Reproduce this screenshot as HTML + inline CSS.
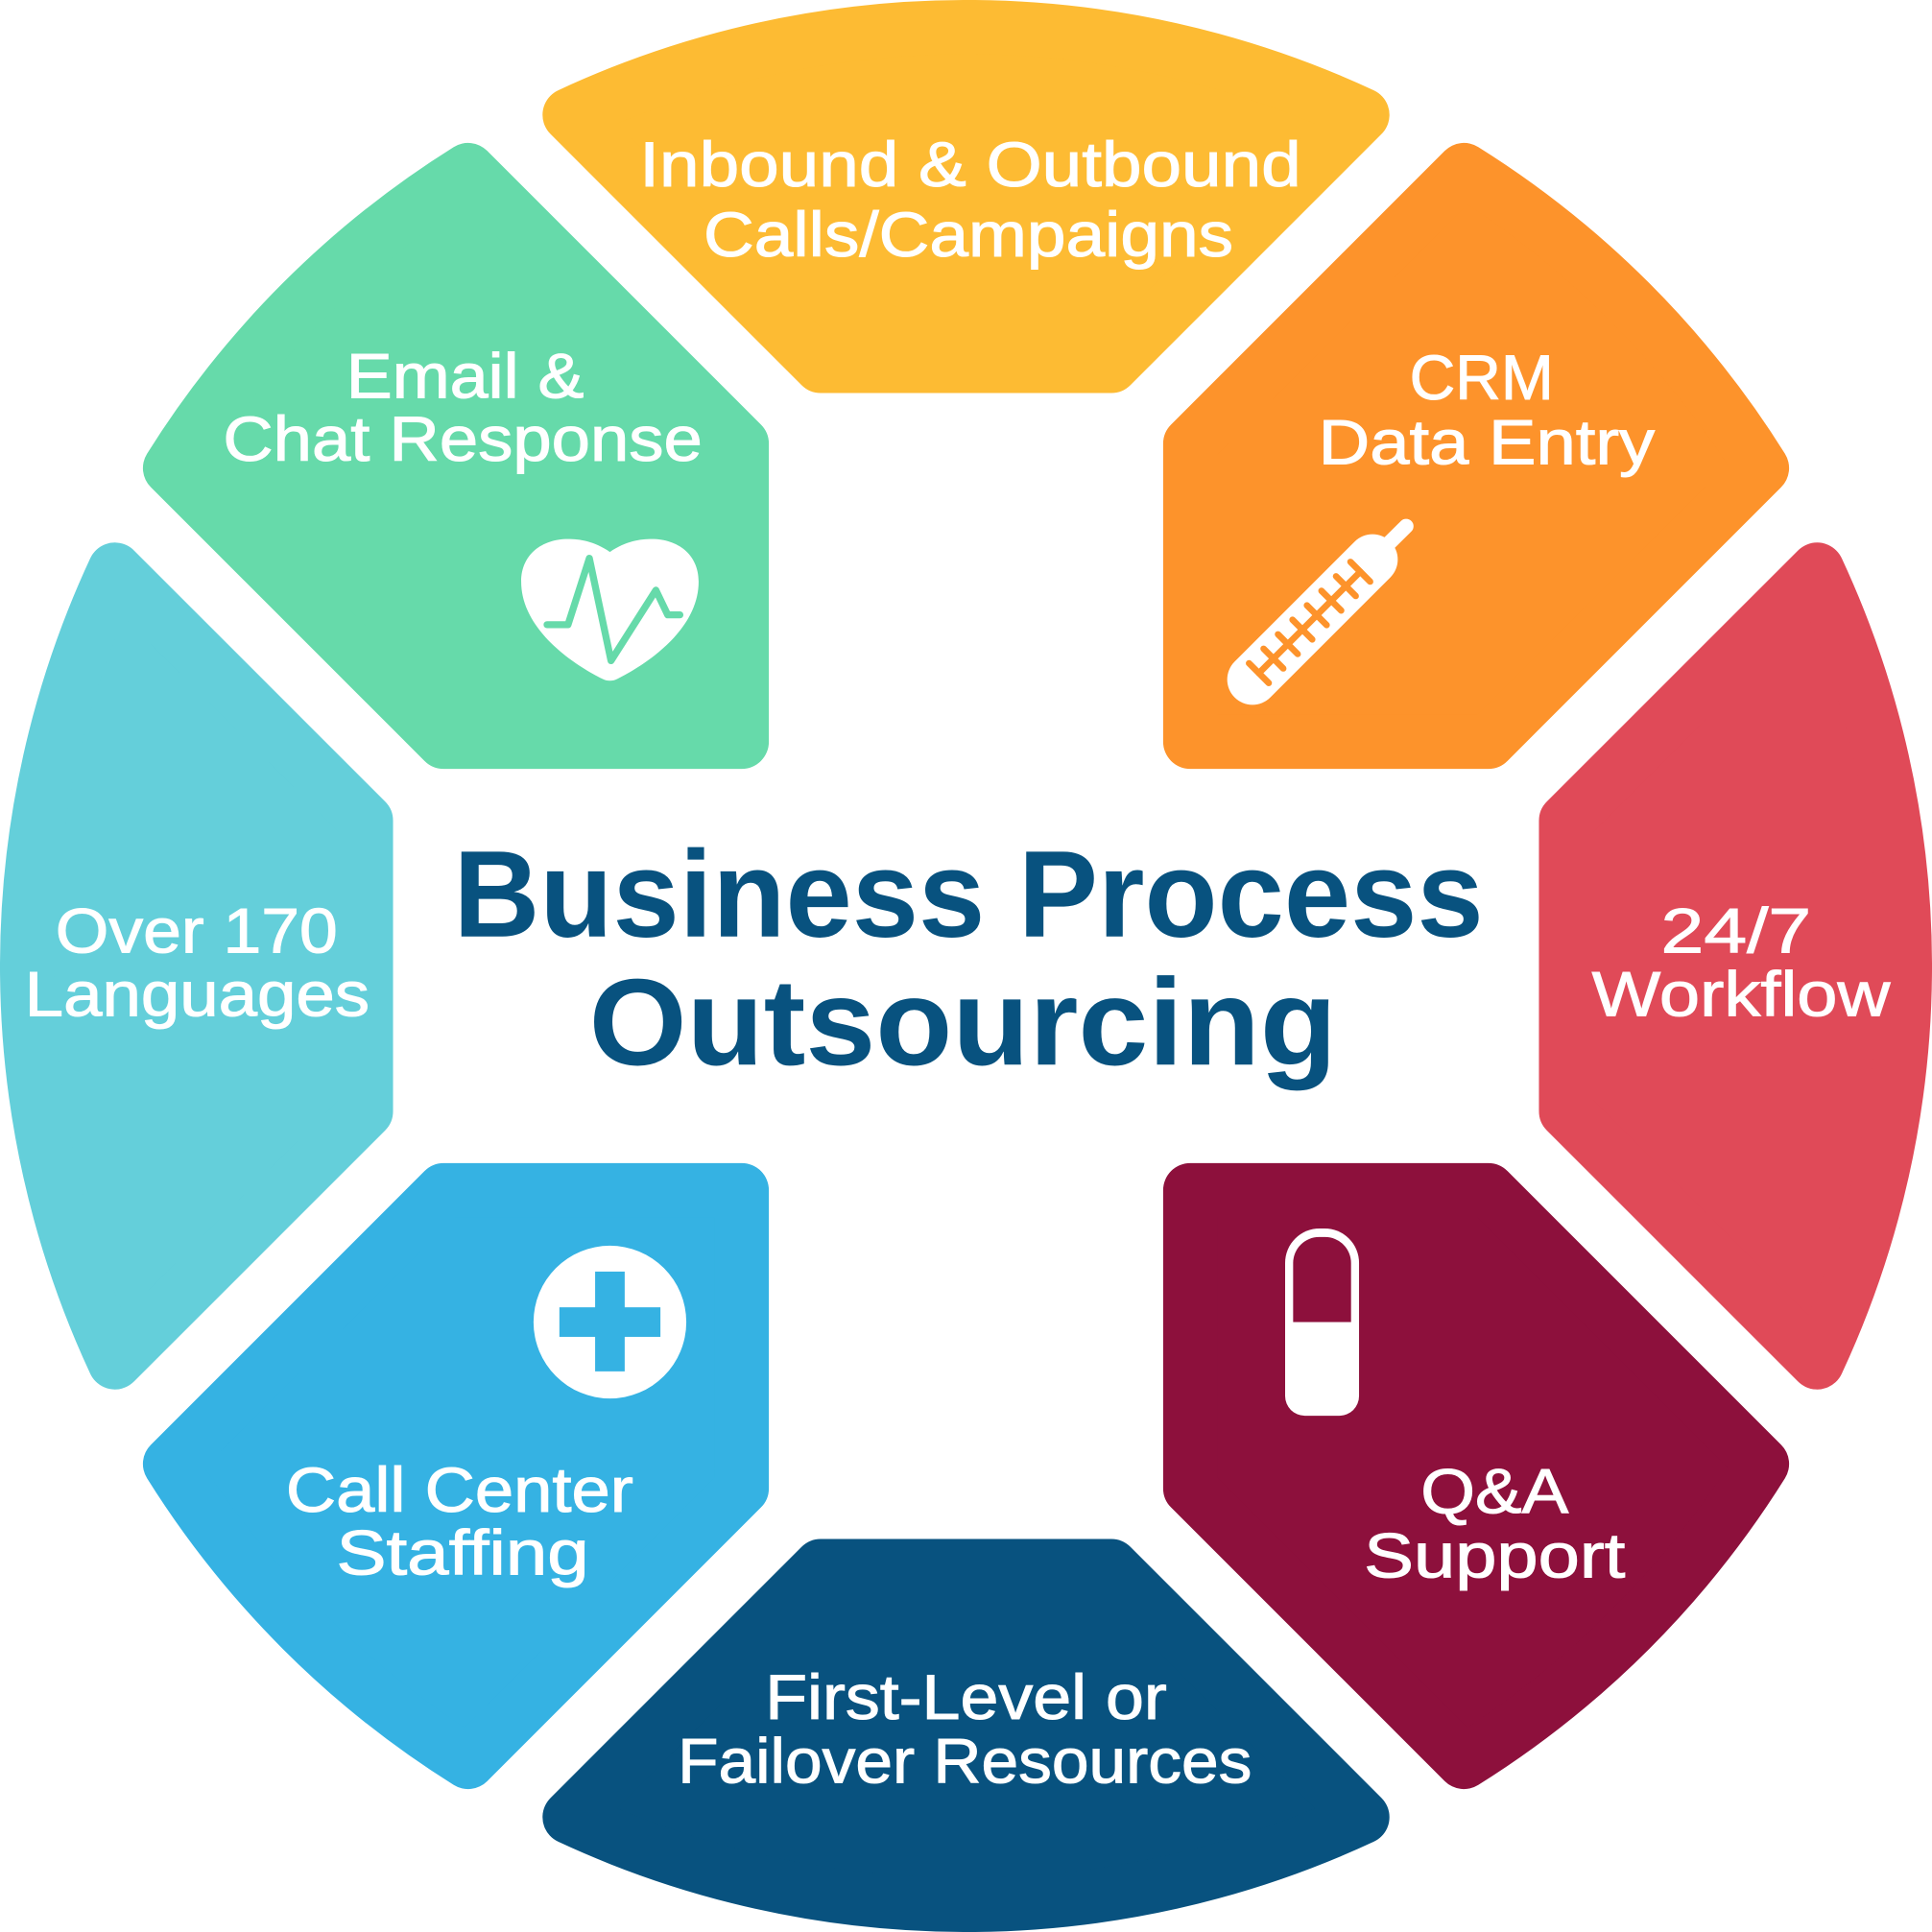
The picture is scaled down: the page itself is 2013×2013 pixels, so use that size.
<!DOCTYPE html>
<html>
<head>
<meta charset="utf-8">
<style>
  html, body { margin: 0; padding: 0; background: #ffffff; }
  svg { display: block; }
  .seg { font-family: "Liberation Sans", sans-serif; font-size: 51px; fill: #ffffff; stroke: #ffffff; stroke-width: 0.8; }
  .title { font-family: "Liberation Sans", sans-serif; font-size: 100px; font-weight: bold; fill: #08527F; }
</style>
</head>
<body>
<svg width="2013" height="2013" viewBox="0 0 1568 1568" xmlns="http://www.w3.org/2000/svg">
  <defs>
    <path id="axisSeg" d="M -117.89 -487 L -321.67 -690.78 A 762 762 0 0 1 321.67 -690.78 L 117.89 -487 Z"/>
    <path id="diagSeg" d="M -182 -182 L -182 -423.89 L -404.12 -646.01 A 762 762 0 0 0 -646.01 -404.12 L -423.89 -182 Z"/>
  </defs>

  <g transform="translate(784 784)" stroke-width="44" stroke-linejoin="round">
    <use href="#axisSeg" fill="#FDBB33" stroke="#FDBB33"/>
    <use href="#axisSeg" transform="rotate(90)" fill="#E04A58" stroke="#E04A58"/>
    <use href="#axisSeg" transform="rotate(180)" fill="#08527F" stroke="#08527F"/>
    <use href="#axisSeg" transform="rotate(270)" fill="#64CFDA" stroke="#64CFDA"/>
    <use href="#diagSeg" fill="#66DAAA" stroke="#66DAAA"/>
    <use href="#diagSeg" transform="rotate(90)" fill="#FD932B" stroke="#FD932B"/>
    <use href="#diagSeg" transform="rotate(180)" fill="#8D103C" stroke="#8D103C"/>
    <use href="#diagSeg" transform="rotate(270)" fill="#35B2E3" stroke="#35B2E3"/>
  </g>

  <!-- Heart icon -->
  <path d="M 495 448 C 482 439, 470 437.5, 461 437.5 C 440 437.5, 423 450, 423 472 C 423 510, 463 538, 489 551 Q 495 554 501 551 C 527 538, 567 510, 567 472 C 567 450, 550 437.5, 529 437.5 C 520 437.5, 508 439, 495 448 Z" fill="#ffffff"/>
  <polyline points="444,507 461,507 478.3,453.1 495.9,536.2 532.3,479 541.9,499 551.8,499" fill="none" stroke="#66DAAA" stroke-width="5.7" stroke-linejoin="round" stroke-linecap="round"/>

  <!-- Thermometer icon -->
  <line x1="1016.5" y1="551.5" x2="1113.9" y2="454.1" stroke="#ffffff" stroke-width="41" stroke-linecap="round"/>
  <line x1="1113" y1="455" x2="1141.2" y2="427.1" stroke="#ffffff" stroke-width="12" stroke-linecap="round"/>
  <g stroke="#FD932B" stroke-width="5.2" stroke-linecap="round">
    <line x1="1021.7" y1="546.3" x2="1104" y2="464"/>
    <line x1="1013.7" y1="538.3" x2="1029.7" y2="554.3"/>
    <line x1="1025.5" y1="526.5" x2="1041.5" y2="542.5"/>
    <line x1="1037.2" y1="514.8" x2="1053.2" y2="530.8"/>
    <line x1="1049" y1="503" x2="1065" y2="519"/>
    <line x1="1060.7" y1="491.3" x2="1076.7" y2="507.3"/>
    <line x1="1072.5" y1="479.5" x2="1088.5" y2="495.5"/>
    <line x1="1084.3" y1="467.7" x2="1100.3" y2="483.7"/>
    <line x1="1096" y1="456" x2="1112" y2="472"/>
  </g>

  <!-- Plus icon -->
  <circle cx="495" cy="1073" r="62" fill="#ffffff"/>
  <rect x="483" y="1032" width="24" height="81" fill="#35B2E3"/>
  <rect x="454" y="1061" width="82" height="24" fill="#35B2E3"/>

  <!-- Pill icon -->
  <path d="M 1043 1025 A 28 28 0 0 1 1071 997 L 1075 997 A 28 28 0 0 1 1103 1025 L 1103 1133 A 16 16 0 0 1 1087 1149 L 1059 1149 A 16 16 0 0 1 1043 1133 Z" fill="#ffffff"/>
  <path d="M 1049.5 1073 L 1049.5 1025 A 21 21 0 0 1 1070.5 1004 L 1075.5 1004 A 21 21 0 0 1 1096.5 1025 L 1096.5 1073 Z" fill="#8D103C"/>

  <!-- Segment labels -->
  <text class="seg" x="519" y="151" textLength="537" lengthAdjust="spacingAndGlyphs">Inbound &amp; Outbound</text>
  <text class="seg" x="571" y="208" textLength="430" lengthAdjust="spacingAndGlyphs">Calls/Campaigns</text>

  <text class="seg" x="281" y="323" textLength="193" lengthAdjust="spacingAndGlyphs">Email &amp;</text>
  <text class="seg" x="181" y="374" textLength="389" lengthAdjust="spacingAndGlyphs">Chat Response</text>

  <text class="seg" x="1144" y="324" textLength="117" lengthAdjust="spacingAndGlyphs">CRM</text>
  <text class="seg" x="1070" y="376.5" textLength="273" lengthAdjust="spacingAndGlyphs">Data Entry</text>

  <text class="seg" x="45" y="773" textLength="229" lengthAdjust="spacingAndGlyphs">Over 170</text>
  <text class="seg" x="20" y="824.5" textLength="280" lengthAdjust="spacingAndGlyphs">Languages</text>

  <text class="seg" x="1348" y="773" textLength="122" lengthAdjust="spacingAndGlyphs">24/7</text>
  <text class="seg" x="1292" y="824.5" textLength="242" lengthAdjust="spacingAndGlyphs">Workflow</text>

  <text class="seg" x="232" y="1227" textLength="282" lengthAdjust="spacingAndGlyphs">Call Center</text>
  <text class="seg" x="273" y="1278" textLength="205" lengthAdjust="spacingAndGlyphs">Staffing</text>

  <text class="seg" x="1153" y="1228" textLength="120" lengthAdjust="spacingAndGlyphs">Q&amp;A</text>
  <text class="seg" x="1107" y="1280" textLength="212" lengthAdjust="spacingAndGlyphs">Support</text>

  <text class="seg" x="621" y="1395" textLength="326" lengthAdjust="spacingAndGlyphs">First-Level or</text>
  <text class="seg" x="550" y="1447" textLength="466" lengthAdjust="spacingAndGlyphs">Failover Resources</text>

  <!-- Title -->
  <text class="title" x="368" y="760" textLength="836" lengthAdjust="spacingAndGlyphs">Business Process</text>
  <text class="title" x="478" y="864" textLength="607" lengthAdjust="spacingAndGlyphs">Outsourcing</text>
</svg>
</body>
</html>
